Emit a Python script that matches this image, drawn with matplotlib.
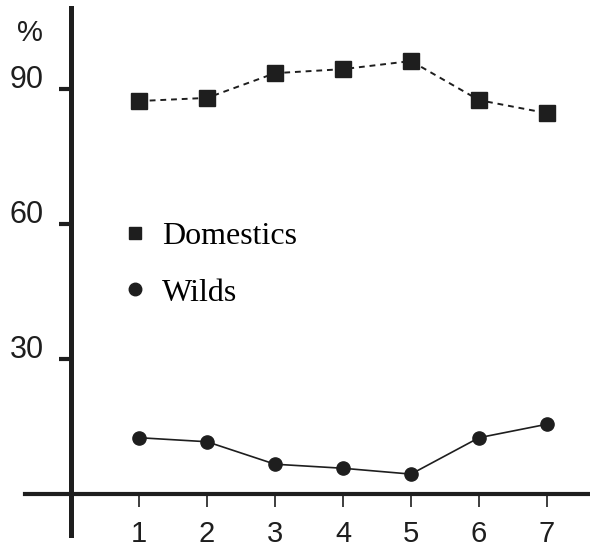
import matplotlib
matplotlib.use('Agg')
import matplotlib.pyplot as plt
from matplotlib.lines import Line2D

periods = [1, 2, 3, 4, 5, 6, 7]
domestics = [87.4, 88.1, 93.6, 94.5, 96.3, 87.6, 84.7]
wilds = [12.5, 11.6, 6.6, 5.7, 4.4, 12.5, 15.5]
yticks = [30, 60, 90]

INK = '#1e1e1e'

fig = plt.figure(figsize=(5.9, 5.48), dpi=100)
ax = fig.add_axes([0, 0, 1, 1])
ax.set_xlim(-1.044, 7.632)
ax.set_ylim(-12.04, 109.88)

ax.plot(periods, domestics, ls=(0, (3, 2.5)), lw=1.4, color=INK,
        marker='s', ms=11, mfc=INK, mec=INK)
ax.plot(periods, wilds, ls='-', lw=1.2, color=INK,
        marker='o', ms=9.5, mfc=INK, mec=INK)

# axes drawn as crossing lines
for s in ['top', 'right']:
    ax.spines[s].set_visible(False)
ax.spines['left'].set_position(('data', 0))
ax.spines['left'].set_bounds(-9.1, 108)
ax.spines['left'].set_linewidth(3.6)
ax.spines['left'].set_color(INK)
ax.spines['bottom'].set_position(('data', 0))
ax.spines['bottom'].set_bounds(-0.68, 7.63)
ax.spines['bottom'].set_linewidth(3.0)
ax.spines['bottom'].set_color(INK)

ax.set_xticks(periods)
ax.set_xticklabels([str(p) for p in periods], fontsize=21,
                   fontfamily='Liberation Sans')
ax.tick_params(axis='x', direction='out', length=9, width=1.2, color=INK,
               pad=10, labelcolor=INK)

ax.set_yticks(yticks)
ax.set_yticklabels([])
ax.tick_params(axis='y', direction='out', length=9, width=3, color=INK)
for v in yticks:
    ax.text(-0.40, v + 2.0, str(v), ha='right', va='center', fontsize=22,
            fontfamily='Liberation Sans', color=INK)
ax.text(-0.60, 102.5, '%', ha='center', va='center', fontsize=21,
        fontfamily='Liberation Sans', color=INK)

handles = [
    Line2D([], [], ls='none', marker='s', ms=9, color=INK, label='Domestics'),
    Line2D([], [], ls='none', marker='o', ms=9, color=INK, label='Wilds'),
]
ax.legend(handles=handles, loc='upper left', bbox_to_anchor=(0.158, 0.648),
          frameon=False, handlelength=0.8, handletextpad=0.45, labelspacing=0.85,
          prop={'family': 'Liberation Serif', 'size': 23})

fig.savefig('out.png', dpi=100)
